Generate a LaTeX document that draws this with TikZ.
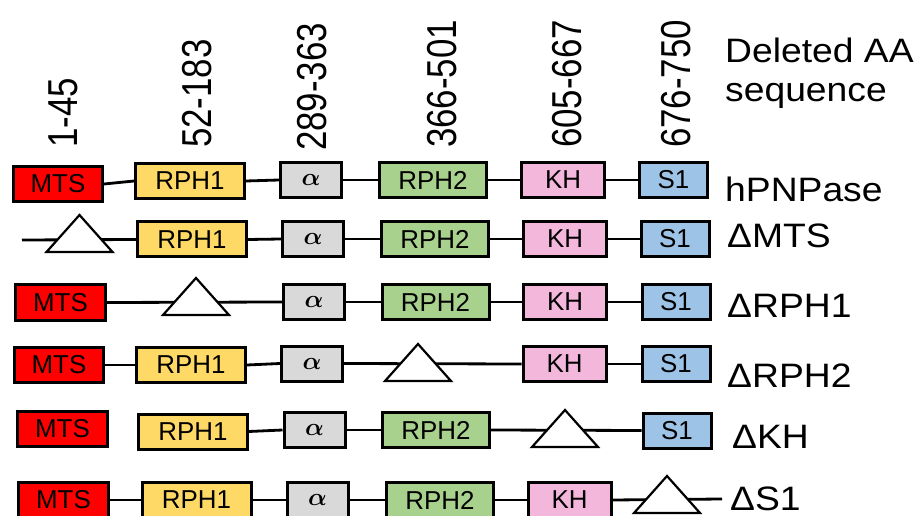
\documentclass[tikz,border=0pt]{standalone}
\usepackage{fontspec}
\setmainfont{Liberation Sans}
\definecolor{cmts}{RGB}{255,0,0}
\definecolor{crpha}{RGB}{255,217,102}
\definecolor{calp}{RGB}{217,217,217}
\definecolor{crphb}{RGB}{169,209,142}
\definecolor{ckh}{RGB}{243,183,220}
\definecolor{csone}{RGB}{157,195,230}
\newcommand{\hstr}[1]{\scalebox{1.1}[1]{#1}}
\newcommand{\vstr}[1]{\scalebox{1}[1.2]{#1}}
\newcommand{\alphatxt}{{\boldmath$\alpha$}}
\begin{document}
\begin{tikzpicture}[x=1bp,y=-1bp,
  box/.style={draw=black, line width=3bp, minimum height=35bp, inner sep=0pt, font=\fontsize{26}{28}\selectfont},
  mts/.style={box, fill=cmts, minimum width=89bp},
  rpha/.style={box, fill=crpha, minimum width=109bp},
  alp/.style={box, fill=calp, minimum width=61bp},
  rphb/.style={box, fill=crphb, minimum width=107bp},
  kh/.style={box, fill=ckh, minimum width=83bp},
  sone/.style={box, fill=csone, minimum width=68bp},
  link/.style={line width=2.8bp},
  tri/.style={draw=black, fill=white, line width=2.2bp, line join=miter},
  aarange/.style={rotate=90, anchor=west, inner sep=0pt, font=\fontsize{35}{40}\selectfont},
  sidelabel/.style={anchor=base west, inner sep=0pt, font=\fontsize{34}{38}\selectfont}]
\fill[white] (0,0) rectangle (916,516);
\useasboundingbox (0,0) rectangle (916,516);

% top labels
\node[aarange] (h1) at (63,148) {\vstr{1-45}};
\node[aarange] (h2) at (197,148) {\vstr{52-183}};
\node[aarange] (h3) at (312,151) {\vstr{289-363}};
\node[aarange] (h4) at (442,148) {\vstr{366-501}};
\node[aarange] (h5) at (567,148) {\vstr{605-667}};
\node[aarange] (h6) at (676,148) {\vstr{676-750}};
\node[sidelabel] (hd1) at (725,63) {\hstr{Deleted AA}};
\node[sidelabel] (hd2) at (725,102) {\hstr{sequence}};

% row 1
\node[mts]  (m1)  at (58,184) {MTS};
\node[rpha] (ra1) at (190,181) {RPH1};
\node[alp]  (a1)  at (311,180) {\alphatxt};
\node[rphb] (rb1) at (433,180) {RPH2};
\node[kh]   (k1)  at (563,180) {KH};
\node[sone] (s1)  at (673.5,180) {S1};
\draw[link] (m1.east) -- (ra1.west);
\draw[link] (ra1.east) -- (a1.west);
\draw[link] (a1.east) -- (rb1.west);
\draw[link] (rb1.east) -- (k1.west);
\draw[link] (k1.east) -- (s1.west);
\node[sidelabel] (n1) at (725,202) {\hstr{hPNPase}};

% row 2
\coordinate (l2) at (22,240);
\coordinate (t2) at (79.5,252);
\node[rpha] (ra2) at (192,239.5) {RPH1};
\node[alp]  (a2)  at (313,239) {\alphatxt};
\node[rphb] (rb2) at (435,239) {RPH2};
\node[kh]   (k2)  at (565,239) {KH};
\node[sone] (s2)  at (675,239) {S1};
\draw[link] (l2) -- (ra2.west);
\draw[tri] (t2) ++(-33,0) -- ++(66,0) -- ++(-33,-37) -- cycle;
\draw[link] (ra2.east) -- (a2.west);
\draw[link] (a2.east) -- (rb2.west);
\draw[link] (rb2.east) -- (k2.west);
\draw[link] (k2.east) -- (s2.west);
\node[sidelabel] (n2) at (727,248) {\hstr{ΔMTS}};

% row 3
\coordinate (t3) at (196,315);
\node[mts]  (m3)  at (60.5,302.5) {MTS};
\node[alp]  (a3)  at (314,302) {\alphatxt};
\node[rphb] (rb3) at (435.5,302) {RPH2};
\node[kh]   (k3)  at (565,302) {KH};
\node[sone] (s3)  at (676,302) {S1};
\draw[link] (m3.east) -- (a3.west);
\draw[tri] (t3) ++(-33,0) -- ++(66,0) -- ++(-33,-37) -- cycle;
\draw[link] (a3.east) -- (rb3.west);
\draw[link] (rb3.east) -- (k3.west);
\draw[link] (k3.east) -- (s3.west);
\node[sidelabel] (n3) at (727,318) {\hstr{ΔRPH1}};

% row 4
\coordinate (t4) at (418,381);
\node[mts]  (m4)  at (59,365) {MTS};
\node[rpha] (ra4) at (191,365) {RPH1};
\node[alp]  (a4)  at (312,363.5) {\alphatxt};
\node[kh]   (k4)  at (564.5,364) {KH};
\node[sone] (s4)  at (676,364) {S1};
\draw[link] (m4.east) -- (ra4.west);
\draw[link] (ra4.east) -- (a4.west);
\draw[link] (a4.east) -- (k4.west);
\draw[tri] (t4) ++(-33,0) -- ++(66,0) -- ++(-33,-37) -- cycle;
\draw[link] (k4.east) -- (s4.west);
\node[sidelabel] (n4) at (727,387) {\hstr{ΔRPH2}};

% row 5
\coordinate (t5) at (565,447);
\node[mts]  (m5)  at (62.5,428.5) {MTS};
\node[rpha] (ra5) at (193,431.5) {RPH1};
\node[alp]  (a5)  at (314.5,430) {\alphatxt};
\node[rphb] (rb5) at (436,430) {RPH2};
\node[sone] (s5)  at (677,430.5) {S1};
\draw[link] (ra5.east) -- (a5.west);
\draw[link] (a5.east) -- (rb5.west);
\draw[link] (rb5.east) -- (s5.west);
\draw[tri] (t5) ++(-33,0) -- ++(66,0) -- ++(-33,-37) -- cycle;
\node[sidelabel] (n5) at (732,448) {\hstr{ΔKH}};

% row 6
\coordinate (t6) at (667,513);
\coordinate (l6) at (722,499);
\node[mts]  (m6)  at (63.5,500) {MTS};
\node[rpha] (ra6) at (196.5,500) {RPH1};
\node[alp]  (a6)  at (317.5,500) {\alphatxt};
\node[rphb] (rb6) at (440,500) {RPH2};
\node[kh]   (k6)  at (569.5,500) {KH};
\draw[link] (m6.east) -- (ra6.west);
\draw[link] (ra6.east) -- (a6.west);
\draw[link] (a6.east) -- (rb6.west);
\draw[link] (rb6.east) -- (k6.west);
\draw[link] (k6.east) -- (l6);
\draw[tri] (t6) ++(-33,0) -- ++(66,0) -- ++(-33,-37) -- cycle;
\node[sidelabel] (n6) at (730,510) {\hstr{ΔS1}};
\end{tikzpicture}
\end{document}
